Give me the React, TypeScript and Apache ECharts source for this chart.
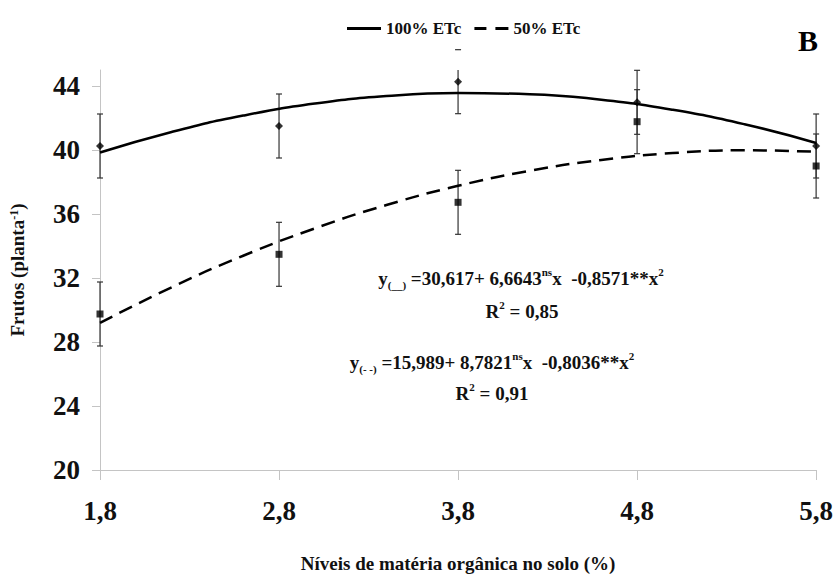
import { useEffect, useRef } from "react";
import * as echarts from "echarts";

const xLevels = [1.8, 2.8, 3.8, 4.8, 5.8];
const frutos100 = [40.25, 41.5, 44.27, 42.98, 40.25];
const frutos50 = [29.75, 33.48, 36.73, 41.77, 39.0];
const erro100 = [2, 2, 2, 2, 2];
const erro50 = [2, 2, 2, 2, 2];
const curveX = [1.8, 2.2, 2.6, 3.0, 3.4, 3.8, 4.2, 4.6, 5.0, 5.4, 5.8];
const curve100 = [39.84, 41.13, 42.15, 42.9, 43.37, 43.56, 43.49, 43.14, 42.51, 41.61, 40.44];
const curve50 = [29.19, 31.42, 33.39, 35.1, 36.56, 37.76, 38.7, 39.38, 39.81, 39.98, 39.89];
const xTicks = [1.8, 2.8, 3.8, 4.8, 5.8];
const yTicks = [20, 24, 28, 32, 36, 40, 44];
const legendNames = ["100% ETc", "50% ETc"];
const eqTexts = [
  "y{sub|(__)} =30,617+ 6,6643{sup|ns}x  -0,8571**x{sup|2}",
  "R{sup|2} = 0,85",
  "y{sub|(- -)} =15,989+ 8,7821{sup|ns}x  -0,8036**x{sup|2}",
  "R{sup|2} = 0,91",
];

const FONT = '"Liberation Serif", "Times New Roman", serif';
const Y_MIN = 20;
const Y_MAX = 45;
const AXIS_GRAY = "#c4c4c4";

export default function App() {
  const ref = useRef<HTMLDivElement>(null);

  useEffect(() => {
    if (!ref.current) return;
    const chart = echarts.init(ref.current, null, { renderer: "svg" });

    const errorRender = (_params: any, api: any) => {
      const x = api.value(0);
      const low = api.value(1);
      const high = api.value(2);
      const pLow = api.coord([x, low]);
      const pHigh = api.coord([x, high]);
      const pTop = api.coord([x, Math.min(high, Y_MAX)]);
      const hw = 3;
      const style = { stroke: "#333333", lineWidth: 1.2 };
      return {
        type: "group",
        children: [
          { type: "line", shape: { x1: pLow[0], y1: pLow[1], x2: pTop[0], y2: pTop[1] }, style },
          { type: "line", shape: { x1: pLow[0] - hw, y1: pLow[1], x2: pLow[0] + hw, y2: pLow[1] }, style },
          { type: "line", shape: { x1: pHigh[0] - hw, y1: pHigh[1], x2: pHigh[0] + hw, y2: pHigh[1] }, style },
        ],
      };
    };

    const richSmall = {
      sub: { fontSize: 11, fontWeight: "bold", fontFamily: FONT, verticalAlign: "bottom", lineHeight: 11, fill: "#111" },
      sup: { fontSize: 11, fontWeight: "bold", fontFamily: FONT, verticalAlign: "top", lineHeight: 11, fill: "#111" },
    };

    const eqPos = [
      [521, 278],
      [522, 311],
      [492, 362],
      [492, 393],
    ];

    chart.setOption({
      animation: false,
      backgroundColor: "#ffffff",
      grid: { left: 99, right: 17, top: 70, bottom: 108, containLabel: false },
      legend: {
        data: [
          { name: legendNames[0], icon: "path://M0 0H34V3H0Z" },
          { name: legendNames[1], icon: "path://M0 0H12V3H0Z M21 0H34V3H21Z" },
        ],
        left: 342,
        top: 15,
        itemWidth: 34,
        itemHeight: 3,
        itemGap: 13,
        itemStyle: { color: "#000" },
        textStyle: { fontFamily: FONT, fontWeight: "bold", fontSize: 17, color: "#111" },
      },
      xAxis: {
        type: "value",
        min: 1.8,
        max: 5.8,
        name: "Níveis de matéria orgânica no solo (%)",
        nameLocation: "middle",
        nameGap: 84,
        nameTextStyle: { fontFamily: FONT, fontWeight: "bold", fontSize: 19, color: "#111" },
        axisLine: { onZero: false, lineStyle: { color: AXIS_GRAY, width: 1 } },
        axisTick: { show: true, customValues: xTicks, length: 10, lineStyle: { color: AXIS_GRAY } },
        axisLabel: {
          customValues: xTicks,
          margin: 27,
          fontFamily: FONT,
          fontWeight: "bold",
          fontSize: 27,
          color: "#111",
          formatter: (v: number) => String(v).replace(".", ","),
        },
        splitLine: { show: false },
      },
      yAxis: {
        type: "value",
        min: Y_MIN,
        max: Y_MAX,
        name: "Frutos (planta{sup|-1})",
        nameLocation: "middle",
        nameGap: 73,
        nameRotate: 90,
        nameTextStyle: {
          fontFamily: FONT,
          fontWeight: "bold",
          fontSize: 19,
          color: "#111",
          rich: {
            sup: { fontFamily: FONT, fontWeight: "bold", fontSize: 12, verticalAlign: "top", lineHeight: 12, color: "#111" },
          },
        },
        axisLine: { show: true, lineStyle: { color: AXIS_GRAY, width: 1 } },
        axisTick: { show: true, customValues: yTicks, length: 8, lineStyle: { color: AXIS_GRAY } },
        axisLabel: {
          customValues: yTicks,
          margin: 20,
          fontFamily: FONT,
          fontWeight: "bold",
          fontSize: 27,
          color: "#111",
        },
        splitLine: { show: false },
      },
      series: [
        {
          name: legendNames[0],
          type: "line",
          data: curveX.map((x, i) => [x, curve100[i]]),
          smooth: true,
          symbol: "none",
          lineStyle: { color: "#000", width: 2.5, type: "solid" },
          itemStyle: { color: "#000" },
          z: 3,
        },
        {
          name: legendNames[1],
          type: "line",
          data: curveX.map((x, i) => [x, curve50[i]]),
          smooth: true,
          symbol: "none",
          lineStyle: { color: "#000", width: 2.5, type: [14, 8] },
          itemStyle: { color: "#000" },
          z: 3,
        },
        {
          name: "erro100",
          type: "custom",
          renderItem: errorRender,
          clip: false,
          encode: { x: 0, y: [1, 2] },
          data: xLevels.map((x, i) => [x, frutos100[i] - erro100[i], frutos100[i] + erro100[i]]),
          z: 2,
        },
        {
          name: "erro50",
          type: "custom",
          renderItem: errorRender,
          clip: false,
          encode: { x: 0, y: [1, 2] },
          data: xLevels.map((x, i) => [x, frutos50[i] - erro50[i], frutos50[i] + erro50[i]]),
          z: 2,
        },
        {
          name: "pts100",
          type: "scatter",
          symbol: "diamond",
          symbolSize: 8,
          itemStyle: { color: "#000" },
          data: xLevels.map((x, i) => [x, frutos100[i]]),
          z: 4,
        },
        {
          name: "pts50",
          type: "scatter",
          symbol: "rect",
          symbolSize: 7,
          itemStyle: { color: "#000" },
          data: xLevels.map((x, i) => [x, frutos50[i]]),
          z: 4,
        },
      ],
      graphic: [
        ...eqTexts.map((t, i) => ({
          type: "text",
          x: eqPos[i][0],
          y: eqPos[i][1],
          style: {
            text: t,
            fontFamily: FONT,
            fontWeight: "bold",
            fontSize: 19,
            lineHeight: 24,
            fill: "#111",
            align: "center",
            verticalAlign: "middle",
            rich: richSmall,
          },
        })),
        {
          type: "text",
          x: 808,
          y: 40,
          style: {
            text: "B",
            fontFamily: FONT,
            fontWeight: "bold",
            fontSize: 30,
            fill: "#000",
            align: "center",
            verticalAlign: "middle",
          },
        },
      ],
    });

    return () => chart.dispose();
  }, []);

  return (
    <div
      ref={ref}
      style={{ position: "fixed", left: 0, top: 0, width: 836, height: 578, background: "#fff" }}
    />
  );
}
